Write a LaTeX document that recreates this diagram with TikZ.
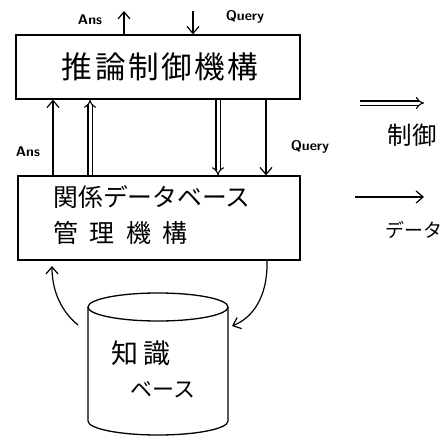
\documentclass[tikz,border=0pt]{standalone}
\usepackage{graphicx}
\usepackage{fontspec}
\newfontfamily\jp{Noto Sans CJK JP}
\usetikzlibrary{arrows.meta}
\begin{document}
\begin{tikzpicture}[x=1pt,y=-1pt,line width=1.3pt,
  box/.style={draw,line width=1.3pt,inner sep=0pt},
  sarrow/.style={line width=1.2pt,-{Straight Barb[length=7pt,width=12pt,line width=1.2pt]}},
  darrow/.style={double,double distance=3pt,line width=1.1pt,-{Implies[length=7pt,width=16pt]}},
  lbl/.style={font=\sffamily\bfseries\fontsize{14}{16}\selectfont},
  big/.style={font=\jp\fontsize{31}{34}\selectfont},
  mid/.style={font=\jp\fontsize{25}{28}\selectfont},
  small/.style={font=\jp\fontsize{23}{26}\selectfont}
]
\useasboundingbox (0,0) rectangle (448,439);
% boxes
\node[box,minimum width=284pt,minimum height=64pt] (ctrl) at (158,67) {};
\node[big,inner sep=0pt] (ctrltxt) at (160,67) {\resizebox{196pt}{!}{\addfontfeature{LetterSpace=8}推論制御機構}};
\node[box,minimum width=282pt,minimum height=84pt] (db) at (159,218) {};
\node[mid,anchor=west,inner sep=0pt] (dbtxt1) at (53,197) {\resizebox{197pt}{!}{関係データベース}};
\node[mid,anchor=west,inner sep=0pt] (dbtxt2) at (53,233) {\addfontfeature{LetterSpace=45}管理機構};
% top arrows
\coordinate (ansTop) at (124,11);
\coordinate (qTop) at (193,11);
\draw[sarrow] (ansTop |- ctrl.north) -- (ansTop);
\draw[sarrow] (qTop) -- (qTop |- ctrl.north);
\node[lbl] (ans1) at (90,20) {Ans};
\node[lbl] (q1) at (245,17) {Query};
% middle arrows
\coordinate (m1) at (53,0);
\coordinate (m2) at (90,0);
\coordinate (m3) at (218,0);
\coordinate (m4) at (266,0);
\draw[sarrow] (m1 |- db.north) -- (m1 |- ctrl.south);
\draw[darrow] (m2 |- db.north) -- (m2 |- ctrl.south);
\draw[darrow] (m3 |- ctrl.south) -- (m3 |- db.north);
\draw[sarrow] (m4 |- ctrl.south) -- (m4 |- db.north);
\node[lbl] (ans2) at (28,152) {Ans};
\node[lbl] (q2) at (310,147) {Query};
% legend
\coordinate (l1a) at (360,103);
\coordinate (l1b) at (424,103);
\draw[darrow] (l1a) -- (l1b);
\node[small,inner sep=0pt] (lg1) at (412,135) {\resizebox{49pt}{!}{制御}};
\coordinate (l2a) at (355,197);
\coordinate (l2b) at (424,197);
\draw[sarrow] (l2a) -- (l2b);
\node[inner sep=0pt,font=\jp\fontsize{19}{22}\selectfont] (lg2) at (414,230) {データ};
% cylinder
\draw[line width=1.3pt] (158,307) ellipse [x radius=70pt, y radius=14pt];
\draw[line width=1.3pt] (88,307) -- (88,421) arc[start angle=180,end angle=360,x radius=70pt,y radius=14pt] -- (228,307);
\node[font=\jp\fontsize{27}{30}\selectfont] (kb1) at (141,353) {知\hspace{6pt}識};
\node[font=\jp\fontsize{22}{26}\selectfont] (kb2) at (163,390) {ベース};
% curved arrows
\coordinate (cl) at (78,325);
\coordinate (cle) at (52,266);
\draw[sarrow] (cl) .. controls (62,312) and (52,292) .. (cle);
\coordinate (crs) at (267,260);
\coordinate (cr) at (232,326);
\draw[sarrow] (crs) .. controls (268,298) and (252,318) .. (cr);
\end{tikzpicture}
\end{document}
